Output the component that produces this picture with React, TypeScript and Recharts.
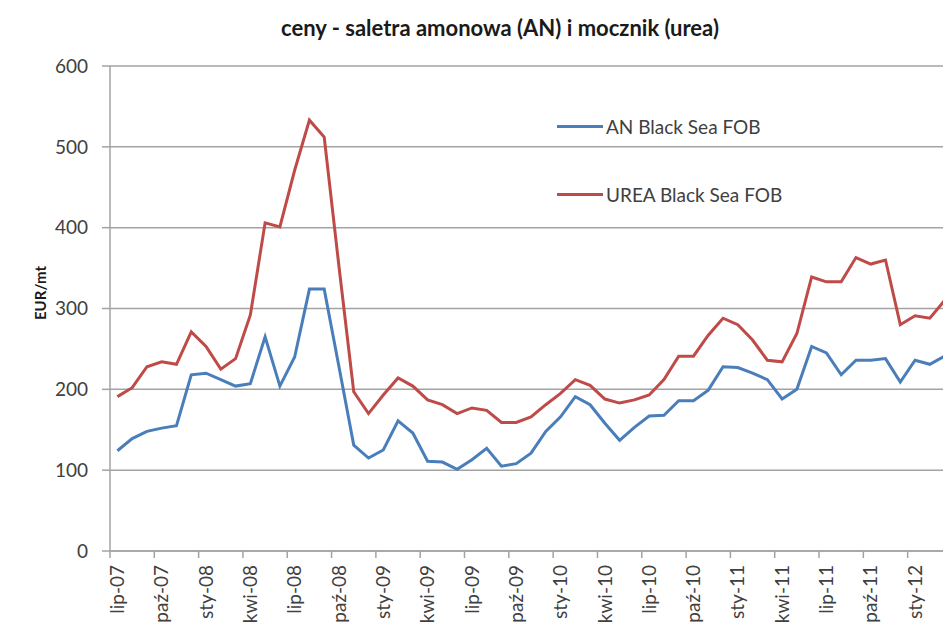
import { CartesianGrid, XAxis, YAxis, Line, LineChart } from "recharts"

const months = [
  "lip-07", "sie-07", "wrz-07", "paź-07", "lis-07", "gru-07",
  "sty-08", "lut-08", "mar-08", "kwi-08", "maj-08", "cze-08",
  "lip-08", "sie-08", "wrz-08", "paź-08", "lis-08", "gru-08",
  "sty-09", "lut-09", "mar-09", "kwi-09", "maj-09", "cze-09",
  "lip-09", "sie-09", "wrz-09", "paź-09", "lis-09", "gru-09",
  "sty-10", "lut-10", "mar-10", "kwi-10", "maj-10", "cze-10",
  "lip-10", "sie-10", "wrz-10", "paź-10", "lis-10", "gru-10",
  "sty-11", "lut-11", "mar-11", "kwi-11", "maj-11", "cze-11",
  "lip-11", "sie-11", "wrz-11", "paź-11", "lis-11", "gru-11",
  "sty-12", "lut-12", "mar-12",
]

const anBlackSea = [
  124, 139, 148, 152, 155, 218, 220, 212, 204, 207, 265, 204,
  240, 324, 324, 228, 131, 115, 125, 161, 146, 111, 110, 101,
  113, 127, 105, 108, 121, 148, 166, 191, 181, 158, 137, 153,
  167, 168, 186, 186, 199, 228, 227, 220, 212, 188, 200, 253,
  245, 218, 236, 236, 238, 209, 236, 231, 241,
]

const ureaBlackSea = [
  191, 202, 228, 234, 231, 271, 253, 225, 238, 292, 406, 401,
  471, 533, 512, 352, 197, 170, 193, 214, 204, 187, 181, 170,
  177, 174, 159, 159, 166, 181, 195, 212, 205, 188, 183, 187,
  193, 212, 241, 241, 267, 288, 280, 261, 236, 234, 269, 339,
  333, 333, 363, 355, 360, 280, 291, 288, 310,
]

const yTicks = [0, 100, 200, 300, 400, 500, 600]

const seriesNames = { an: "AN Black Sea FOB", urea: "UREA Black Sea FOB" }
const colors = { an: "#4a7ebb", urea: "#be4b48" }

const data = months.map((m, i) => ({ month: m, an: anBlackSea[i], urea: ureaBlackSea[i] }))

const FONT = "Lato, 'Open Sans', sans-serif"
const GRID = "#a3a3a3"
const HALF_CAT = 7.4

function XTick({ x, y, payload }: any) {
  return (
    <g>
      <line x1={x - HALF_CAT} x2={x - HALF_CAT} y1={y} y2={y + 7} stroke={GRID} strokeWidth={1.5} />
      <text
        transform={`translate(${x},${y + 14}) rotate(-90)`}
        textAnchor="end"
        dy="0.35em"
        fontSize={19}
        fontFamily={FONT}
        fill="#404040"
      >
        {payload.value}
      </text>
    </g>
  )
}

function ChartLegend() {
  const rows: ("an" | "urea")[] = ["an", "urea"]
  return (
    <div style={{ position: "absolute", left: 557, top: 111, fontFamily: FONT, fontSize: 19, color: "#404040" }}>
      {rows.map((k, i) => (
        <div key={k} style={{ display: "flex", alignItems: "center", height: 30, marginBottom: i === 0 ? 38 : 0 }}>
          <span style={{ display: "inline-block", width: 46, height: 3, background: colors[k], marginRight: 3 }} />
          <span>{seriesNames[k]}</span>
        </div>
      ))}
    </div>
  )
}

export default function App() {
  return (
    <div style={{ position: "absolute", left: 0, top: 0, width: 943, height: 624, overflow: "hidden", background: "#fff" }}>
      <div style={{ position: "absolute", left: 0, top: 14, width: 1000, textAlign: "center", fontFamily: FONT, fontWeight: 700, fontSize: 22, color: "#1a1a1a" }}>
        ceny - saletra amonowa (AN) i mocznik (urea)
      </div>
      <div style={{ position: "absolute", left: 40, top: 293, transform: "translate(-50%, -50%) rotate(-90deg)", fontFamily: FONT, fontWeight: 700, fontSize: 15, color: "#1a1a1a", whiteSpace: "nowrap" }}>
        EUR/mt
      </div>
      <LineChart width={980} height={680} data={data} margin={{ top: 66, right: 28, bottom: 0, left: 0 }}>
        <CartesianGrid vertical={false} stroke={GRID} strokeWidth={1.5} />
        <XAxis
          dataKey="month"
          interval={2}
          height={129}
          padding={{ left: HALF_CAT, right: HALF_CAT }}
          tickSize={0}
          tickMargin={0}
          tick={<XTick />}
          axisLine={{ stroke: GRID, strokeWidth: 1.5 }}
        />
        <YAxis
          width={110}
          domain={[0, 600]}
          ticks={yTicks}
          tickSize={8}
          tickMargin={14}
          tickLine={{ stroke: GRID, strokeWidth: 1.5 }}
          axisLine={{ stroke: GRID, strokeWidth: 1.5 }}
          tick={{ fontSize: 19, fontFamily: FONT, fill: "#404040" }}
        />
        <Line type="linear" dataKey="an" name={seriesNames.an} stroke={colors.an} strokeWidth={3} dot={false} isAnimationActive={false} />
        <Line type="linear" dataKey="urea" name={seriesNames.urea} stroke={colors.urea} strokeWidth={3} dot={false} isAnimationActive={false} />
      </LineChart>
      <ChartLegend />
    </div>
  )
}
